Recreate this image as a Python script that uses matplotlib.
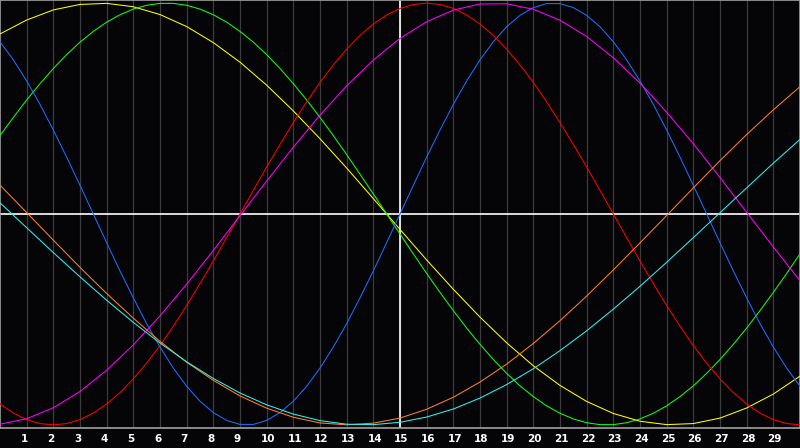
import numpy as np
import matplotlib
matplotlib.use("Agg")
import matplotlib.pyplot as plt

# days shown along the bottom
days = list(range(0, 31))
half_days = [i / 2 for i in range(0, 61)]
tick_days = list(range(1, 30))

# the three short cycles, read every half day (day 0 .. day 30)
physical = [0.817, 0.731, 0.631, 0.520, 0.398, 0.270, 0.136, 0.000, -0.136, -0.270,
            -0.398, -0.520, -0.631, -0.731, -0.817, -0.888, -0.942, -0.979, -0.998, -0.998,
            -0.979, -0.942, -0.888, -0.817, -0.731, -0.631, -0.520, -0.398, -0.270, -0.136,
            0.000, 0.136, 0.270, 0.398, 0.520, 0.631, 0.731, 0.817, 0.888, 0.942,
            0.979, 0.998, 0.998, 0.979, 0.942, 0.888, 0.817, 0.731, 0.631, 0.520,
            0.398, 0.270, 0.136, 0.000, -0.136, -0.270, -0.398, -0.520, -0.631, -0.731, -0.817]
emotional = [-0.901, -0.944, -0.975, -0.994, -1.000, -0.994, -0.975, -0.944, -0.901, -0.847,
             -0.782, -0.707, -0.624, -0.532, -0.434, -0.330, -0.223, -0.112, 0.000, 0.112,
             0.223, 0.330, 0.434, 0.532, 0.624, 0.707, 0.782, 0.847, 0.901, 0.944,
             0.975, 0.994, 1.000, 0.994, 0.975, 0.944, 0.901, 0.847, 0.782, 0.707,
             0.624, 0.532, 0.434, 0.330, 0.223, 0.112, 0.000, -0.112, -0.223, -0.330,
             -0.434, -0.532, -0.624, -0.707, -0.782, -0.847, -0.901, -0.944, -0.975, -0.994, -1.000]
intellectual = [0.372, 0.458, 0.541, 0.618, 0.690, 0.756, 0.815, 0.866, 0.910, 0.945,
                0.972, 0.990, 0.999, 0.999, 0.990, 0.972, 0.945, 0.910, 0.866, 0.815,
                0.756, 0.690, 0.618, 0.541, 0.458, 0.372, 0.282, 0.189, 0.095, 0.000,
                -0.095, -0.189, -0.282, -0.372, -0.458, -0.541, -0.618, -0.690, -0.756, -0.815,
                -0.866, -0.910, -0.945, -0.972, -0.990, -0.999, -0.999, -0.990, -0.972, -0.945,
                -0.910, -0.866, -0.815, -0.756, -0.690, -0.618, -0.541, -0.458, -0.372, -0.282, -0.189]

# the longer cycles, read once per day (day 0 .. day 30)
intuitive = [-0.997, -0.971, -0.919, -0.842, -0.741, -0.621, -0.483, -0.333, -0.173, -0.008,
             0.156, 0.317, 0.469, 0.608, 0.730, 0.833, 0.912, 0.967, 0.996, 0.997,
             0.971, 0.919, 0.842, 0.741, 0.621, 0.483, 0.333, 0.173, 0.008, -0.156, -0.317]
aesthetic = [0.854, 0.920, 0.968, 0.994, 0.999, 0.983, 0.946, 0.889, 0.813, 0.720,
             0.611, 0.489, 0.357, 0.218, 0.073, -0.073, -0.218, -0.357, -0.489, -0.611,
             -0.720, -0.813, -0.889, -0.946, -0.983, -0.999, -0.994, -0.968, -0.920, -0.854, -0.769]
awareness = [0.137, 0.007, -0.124, -0.253, -0.377, -0.494, -0.604, -0.703, -0.789, -0.863,
             -0.921, -0.964, -0.991, -1.000, -0.992, -0.968, -0.926, -0.869, -0.797, -0.712,
             -0.614, -0.506, -0.389, -0.265, -0.137, -0.007, 0.124, 0.253, 0.377, 0.494, 0.604]
spiritual = [0.053, -0.065, -0.183, -0.298, -0.409, -0.514, -0.612, -0.701, -0.780, -0.849,
             -0.905, -0.949, -0.980, -0.997, -0.999, -0.988, -0.963, -0.925, -0.873, -0.809,
             -0.734, -0.648, -0.554, -0.451, -0.343, -0.229, -0.112, 0.006, 0.124, 0.241, 0.354]

series = [
    (days, aesthetic, "#ffff00"),
    (half_days, intellectual, "#10ff10"),
    (half_days, physical, "#1e6eff"),
    (half_days, emotional, "#ff0000"),
    (days, intuitive, "#ff00ff"),
    (days, awareness, "#ff8020"),
    (days, spiritual, "#30f0f0"),
]

fig = plt.figure(figsize=(8, 4.48), dpi=100, facecolor="#050508")
ax = fig.add_axes([0, 20 / 448, 1, 428 / 448])
ax.set_facecolor("#050508")
ax.set_xlim(0, 30)
ax.set_ylim(-1.015, 1.015)

for d in tick_days:
    ax.axvline(d, color="#3c3c3c", lw=0.9, zorder=1)
ax.axvline(15, color="white", lw=1.2, zorder=2)
ax.axhline(0, color="white", lw=1.2, zorder=2)

for xs, vals, col in series:
    ax.plot(xs, vals, color=col, lw=0.75, zorder=3)

for s in ax.spines.values():
    s.set_color("#a0a0a0")
    s.set_linewidth(1.2)

ax.set_xticks([])
ax.set_yticks([])
# day numbers: left-aligned a few pixels before each grid line
for d in tick_days:
    ax.annotate(str(d), xy=(d, 0), xycoords=("data", "axes fraction"),
                xytext=(-6, -11), textcoords="offset pixels",
                ha="left", va="center", color="white",
                fontsize=7.5, fontweight="bold", family="DejaVu Sans",
                annotation_clip=False)

fig.savefig("out.png", dpi=100, facecolor=fig.get_facecolor())
